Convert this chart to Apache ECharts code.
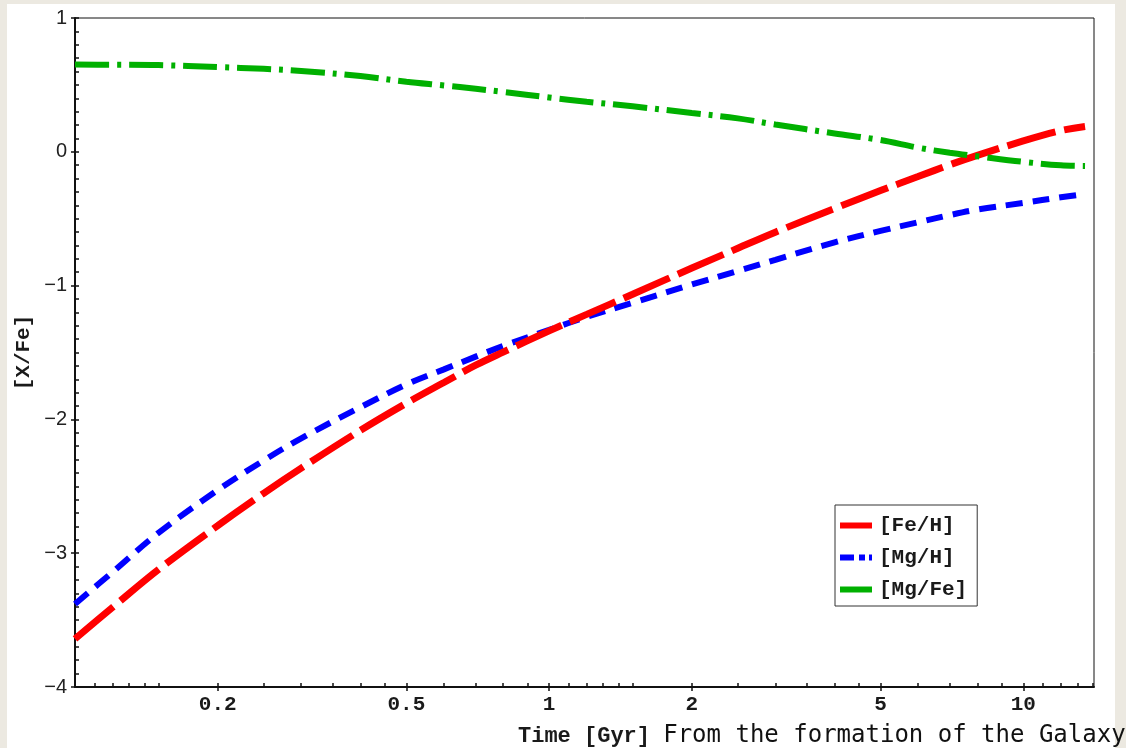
<!DOCTYPE html>
<html>
<head>
<meta charset="utf-8">
<script src="https://cdn.jsdelivr.net/npm/echarts@6/dist/echarts.min.js"></script>
<style>
  html, body { margin: 0; padding: 0; background: #ECE9E1; }
  #paper { position: absolute; left: 7px; top: 4px; width: 1108px; height: 744px; background: #ffffff; }
  #chart { position: absolute; left: 0; top: 0; width: 1126px; height: 748px; }
</style>
</head>
<body>
<div id="paper"></div>
<div id="chart"></div>
<script>
// Time since formation of the Galaxy [Gyr]
const times = [0.1, 0.12, 0.15, 0.2, 0.25, 0.3, 0.4, 0.5, 0.6, 0.7, 0.8, 1.0, 1.2, 1.5, 2, 2.5, 3, 4, 5, 6, 7, 8, 10, 12, 13.5];
const feH  = [-3.64, -3.405, -3.122, -2.794, -2.552, -2.364, -2.082, -1.879, -1.724, -1.595, -1.497, -1.338, -1.215, -1.065, -0.869, -0.721, -0.601, -0.424, -0.29, -0.185, -0.097, -0.027, 0.081, 0.158, 0.189];
const mgH  = [-3.38, -3.141, -2.848, -2.528, -2.307, -2.141, -1.909, -1.739, -1.626, -1.531, -1.451, -1.331, -1.234, -1.128, -0.992, -0.890, -0.807, -0.677, -0.591, -0.527, -0.473, -0.432, -0.382, -0.340, -0.315];
const mgFe = [0.652, 0.651, 0.648, 0.633, 0.620, 0.604, 0.566, 0.524, 0.496, 0.471, 0.448, 0.406, 0.374, 0.340, 0.290, 0.250, 0.204, 0.137, 0.088, 0.031, -0.007, -0.033, -0.075, -0.101, -0.106];

const seriesNames = ['[Fe/H]', '[Mg/H]', '[Mg/Fe]'];
const xMajorTicks = [0.2, 0.5, 1, 2, 5, 10];
const xMinorTicks = [0.11, 0.12, 0.13, 0.14, 0.15, 0.2, 0.25, 0.3, 0.35, 0.4, 0.45, 0.5, 0.6, 0.7, 0.8, 0.9, 1,
                     1.1, 1.2, 1.3, 1.4, 1.5, 2, 2.5, 3, 3.5, 4, 4.5, 5, 6, 7, 8, 9, 10, 11, 12, 13, 14];
const xRange = [0.1, 14.1];
const yRange = [-4, 1];

const MONO = '"Liberation Mono", "Courier New", monospace';
const SANS = '"Liberation Sans", Arial, sans-serif';

const pairs = ys => times.map((t, i) => [t, ys[i]]);

const chart = echarts.init(document.getElementById('chart'), null, { renderer: 'canvas' });
chart.setOption({
  animation: false,
  backgroundColor: 'transparent',
  grid: { left: 75, right: 32, top: 18, bottom: 61, containLabel: false, outerBoundsMode: 'none',
          show: true, borderColor: '#111', borderWidth: 1, backgroundColor: 'transparent' },
  xAxis: [{
    type: 'log', logBase: 10, min: xRange[0], max: xRange[1],
    axisLine: { show: true, onZero: false, lineStyle: { color: '#111', width: 2 } },
    axisTick: { show: true, inside: false, length: 4, customValues: xMajorTicks, lineStyle: { color: '#111', width: 1.5 } },
    axisLabel: { show: true, customValues: xMajorTicks, margin: 7, fontFamily: MONO, fontWeight: 'bold', fontSize: 21, color: '#1a1a1a',
                 formatter: v => String(+v.toPrecision(3)) },
    splitLine: { show: false }, minorTick: { show: false }
  }, {
    type: 'log', logBase: 10, min: xRange[0], max: xRange[1], position: 'bottom',
    axisLine: { show: false, onZero: false },
    axisTick: { show: true, inside: true, length: 4, customValues: xMinorTicks, lineStyle: { color: '#111', width: 1.5 } },
    axisLabel: { show: false }, splitLine: { show: false }
  }],
  yAxis: [{
    type: 'value', min: yRange[0], max: yRange[1], interval: 1,
    name: '[X/Fe]', nameLocation: 'middle', nameGap: 41, nameMoveOverlap: false,
    nameTextStyle: { fontFamily: MONO, fontWeight: 'bold', fontSize: 21, color: '#1a1a1a' },
    axisLine: { show: true, onZero: false, lineStyle: { color: '#111', width: 2 } },
    axisTick: { show: true, inside: false, length: 4, lineStyle: { color: '#111', width: 1.5 } },
    axisLabel: { margin: 8, fontFamily: SANS, fontSize: 20, color: '#222',
                 formatter: v => (v < 0 ? '\u2212' + Math.abs(v) : String(v)) },
    splitLine: { show: false }
  }, {
    type: 'value', min: yRange[0], max: yRange[1], interval: 0.1, position: 'left', offset: 0,
    axisLine: { show: false, onZero: false },
    axisTick: { show: true, inside: true, length: 4, lineStyle: { color: '#111', width: 1.5 } },
    axisLabel: { show: false }, splitLine: { show: false }
  }],
  legend: {
    orient: 'vertical', left: 835, top: 505,
    padding: [10, 10, 6, 5], itemGap: 11, itemWidth: 32, itemHeight: 6,
    backgroundColor: '#fff', borderColor: '#333', borderWidth: 1,
    textStyle: { fontFamily: MONO, fontWeight: 'bold', fontSize: 21, color: '#1a1a1a', padding: [4, 0, 0, 2] },
    data: [
      { name: seriesNames[0], icon: 'path://M0,0H32V6H0Z' },
      { name: seriesNames[1], icon: 'path://M0,0H14V6H0Z M19,0H25V6H19Z M29,0H32V6H29Z' },
      { name: seriesNames[2], icon: 'path://M0,0H32V6H0Z' }
    ]
  },
  graphic: [{
    type: 'text', x: 518, y: 736,
    style: {
      text: '{a|Time [Gyr] }{b|From the formation of the Galaxy}',
      verticalAlign: 'middle', align: 'left',
      rich: {
        a: { fontFamily: MONO, fontWeight: 'bold', fontSize: 22, fill: '#1a1a1a' },
        b: { fontFamily: '"DejaVu Sans Mono", monospace', fontSize: 24, fill: '#111' }
      }
    }
  }],
  series: [{
    name: seriesNames[0], type: 'line', data: pairs(feH), smooth: 0.35, symbol: 'none', showSymbol: false,
    color: '#FF0000', lineStyle: { color: '#FF0000', width: 7, type: [50, 9], cap: 'butt' }, z: 3
  }, {
    name: seriesNames[1], type: 'line', data: pairs(mgH), smooth: 0.35, symbol: 'none', showSymbol: false,
    color: '#0000FF', lineStyle: { color: '#0000FF', width: 6, type: [17, 10], cap: 'butt' }, z: 2
  }, {
    name: seriesNames[2], type: 'line', data: pairs(mgFe), smooth: 0.35, symbol: 'none', showSymbol: false,
    color: '#00B000', lineStyle: { color: '#00B000', width: 6, type: [34, 8, 4, 8], cap: 'butt' }, z: 4
  }]
});
</script>
</body>
</html>
